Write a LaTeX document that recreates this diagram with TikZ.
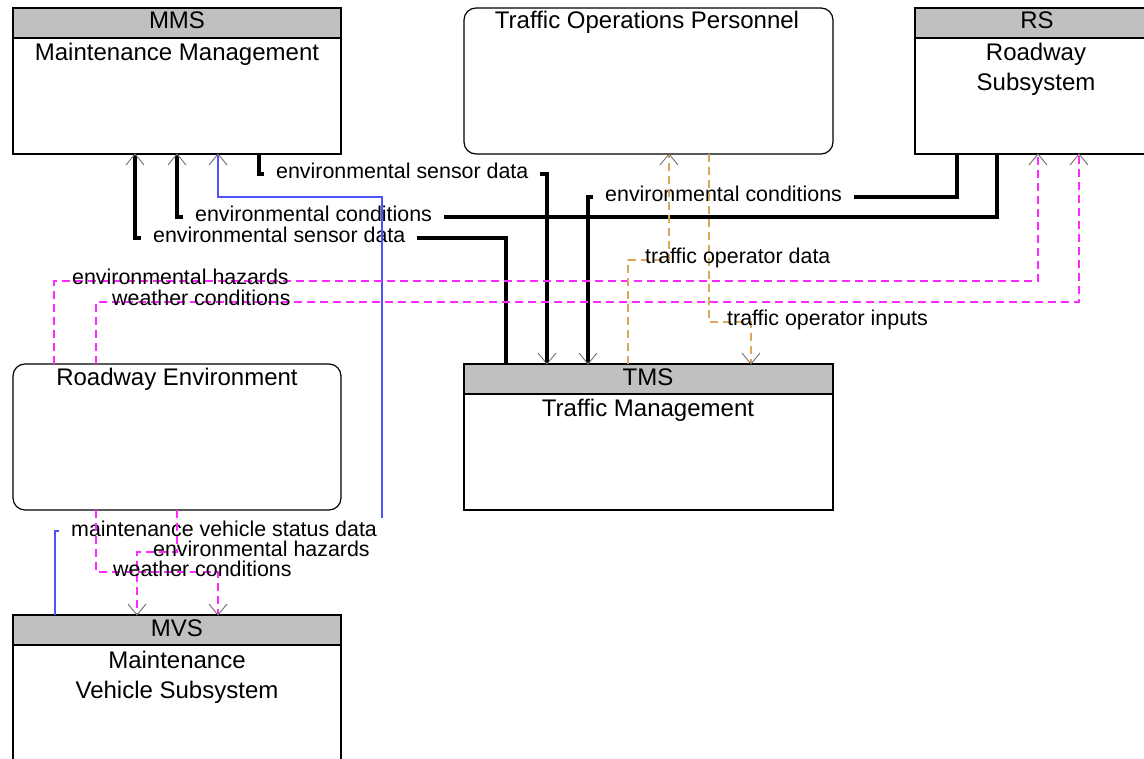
\documentclass[tikz,border=0pt]{standalone}
\usepackage{fontspec}
\setmainfont{Liberation Sans}
\usetikzlibrary{calc}
\definecolor{hdr}{RGB}{192,192,192}
\definecolor{arrg}{RGB}{110,110,110}
\definecolor{magc}{RGB}{255,40,255}
\definecolor{tanc}{RGB}{215,168,90}
\definecolor{bluc}{RGB}{80,80,255}
\begin{document}
\begin{tikzpicture}[x=1pt,y=-1pt,
  box/.style={draw,line width=1.2pt,inner sep=0pt,outer sep=0pt,minimum width=#1,minimum height=146pt},
  rbox/.style={box=#1,rounded corners=12pt},
  ttl/.style={font=\fontsize{24}{30}\selectfont,anchor=base,inner sep=0pt},
  lab/.style={font=\fontsize{21.4}{26}\selectfont,anchor=base west,inner xsep=12pt,inner ysep=2pt,fill=white},
  dlab/.style={font=\fontsize{21.4}{26}\selectfont,anchor=base west,inner sep=0pt},
  blk/.style={line width=3.2pt,draw=black},
  blul/.style={line width=1.1pt,draw=bluc},
  magd/.style={line width=1.1pt,draw=magc,dash pattern=on 8pt off 5pt},
  tand/.style={line width=1.1pt,draw=tanc,dash pattern=on 8pt off 5pt},
  uparr/.pic={\draw[arrg,line width=0.9pt,solid] (-9,11) -- (0,0) -- (9,11);},
  dnarr/.pic={\draw[arrg,line width=0.9pt,solid] (-9,-11) -- (0,0) -- (9,-11);}]
\useasboundingbox (0,0) rectangle (1144,759);
\clip (0,0) rectangle (1144,759);

% boxes
\node[box=328pt] (mms) at (177,81) {};
\node[rbox=369pt] (top) at (648.5,81) {};
\node[box=245pt] (rs) at (1037.5,81) {};
\node[rbox=328pt] (re) at (177,437) {};
\node[box=369pt] (tms) at (648.5,437) {};
\node[box=328pt] (mvs) at (177,688) {};
\foreach \b in {mms,rs,tms,mvs}
  \draw[line width=1.2pt,fill=hdr] (\b.north west) rectangle ($(\b.north east)+(0,30)$);

% titles
\node[ttl] (mmsh) at (177,29) {MMS};
\node[ttl] (mmst) at (177,61) {Maintenance Management};
\node[ttl] (topt) at (647,29) {Traffic Operations Personnel};
\node[ttl] (rsh) at (1037,29) {RS};
\node[ttl] (rst1) at (1036,61) {Roadway};
\node[ttl] (rst2) at (1036,91) {Subsystem};
\node[ttl] (ret) at (177,385) {Roadway Environment};
\node[ttl] (tmsh) at (648,385) {TMS};
\node[ttl] (tmst) at (648,417) {Traffic Management};
\node[ttl] (mvsh) at (177,636) {MVS};
\node[ttl] (mvst1) at (177,668) {Maintenance};
\node[ttl] (mvst2) at (177,698) {Vehicle Subsystem};

% solid black flows
\draw[blk] (506,0 |- tms.north) |- (135,238) -- (135,0 |- mms.south);
\draw[blk] (997,0 |- rs.south) |- (177,217) -- (177,0 |- mms.south);
\draw[blk] (957,0 |- rs.south) |- (588,197) -- (588,0 |- tms.north);
\draw[blk] (259,0 |- mms.south) |- (547,174) -- (547,0 |- tms.north);
\node[lab] (l1) at (141,242.5) {environmental sensor data\hspace{10pt}};
\node[lab] (l2) at (183,221.5) {environmental conditions\hspace{10pt}};
\node[lab] (l3) at (593,201.5) {environmental conditions\hspace{10pt}};
\node[lab] (l4) at (264,178.5) {environmental sensor data\hspace{4pt}};

% blue flow
\draw[blul] (55,0 |- mvs.north) |- (382,531) |- (218,197) -- (218,0 |- mms.south);
\node[lab] (l5) at (59,536) {maintenance vehicle status data\hspace{-10pt}};

% dashed flows
\draw[magd] (54,0 |- re.north) |- (1038,281) -- (1038,0 |- rs.south);
\draw[magd] (96,0 |- re.north) |- (1079,302) -- (1079,0 |- rs.south);
\draw[magd] (177,0 |- re.south) |- (137,552) -- (137,0 |- mvs.north);
\draw[magd] (96,0 |- re.south) |- (218,572) -- (218,0 |- mvs.north);
\draw[tand] (628,0 |- tms.north) |- (669,260) -- (669,0 |- top.south);
\draw[tand] (709,0 |- top.south) |- (751,322) -- (751,0 |- tms.north);
\node[dlab] (l6) at (72,285) {environmental hazards};
\node[dlab] (l7) at (112,306) {weather conditions};
\node[dlab] (l8) at (645,264) {traffic operator data};
\node[dlab] (l9) at (727,326) {traffic operator inputs};
\node[dlab] (l10) at (153,556) {environmental hazards};
\node[dlab] (l11) at (113,576) {weather conditions};

% arrowheads
\foreach \x in {135,177,218} \pic at (\x,0 |- mms.south) {uparr};
\foreach \x in {1038,1079} \pic at (\x,0 |- rs.south) {uparr};
\pic at (669,0 |- top.south) {uparr};
\foreach \x in {547,588,751} \pic at (\x,0 |- tms.north) {dnarr};
\foreach \x in {137,218} \pic at (\x,0 |- mvs.north) {dnarr};
\end{tikzpicture}
\end{document}
